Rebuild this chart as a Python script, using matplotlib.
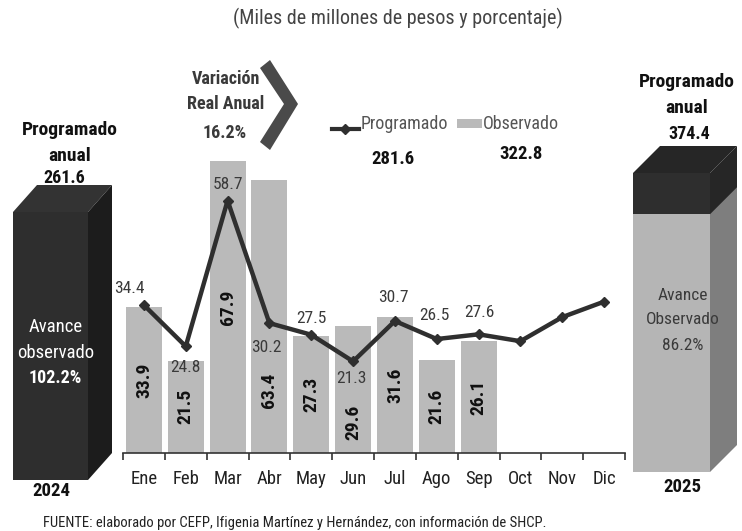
import matplotlib
matplotlib.use("Agg")
import matplotlib.pyplot as plt
from matplotlib.patches import Polygon, Rectangle
from matplotlib import font_manager

# ---------------- data ----------------
months = ["Ene", "Feb", "Mar", "Abr", "May", "Jun", "Jul", "Ago", "Sep", "Oct", "Nov", "Dic"]
observado = [33.9, 21.5, 67.9, 63.4, 27.3, 29.6, 31.6, 21.6, 26.1]
programado = [34.4, 24.8, 58.7, 30.2, 27.5, 21.3, 30.7, 26.5, 27.6, 26.0, 31.6, 35.2]
n_prog_labels = 9
total_prog_ytd = "281.6"
total_obs_ytd = "322.8"
prog_2024 = "261.6"
prog_2025 = "374.4"
avance_2024 = "102.2%"
avance_2025 = "86.2%"
avance_2025_frac = 0.862
var_real = "16.2%"

# ---------------- fonts ----------------
avail = {f.name for f in font_manager.fontManager.ttflist}
FAM = [f for f in ["Liberation Sans Narrow", "Roboto Condensed", "DejaVu Sans"] if f in avail] or ["DejaVu Sans"]
plt.rcParams["font.family"] = FAM

W, H = 742, 531
fig = plt.figure(figsize=(W / 100, H / 100), dpi=100)
fig.patch.set_facecolor("white")

# overlay axes in pixel coords
ov = fig.add_axes([0, 0, 1, 1], zorder=0)
ov.set_xlim(0, W)
ov.set_ylim(H, 0)
ov.axis("off")

# main chart axes (pixel layout)
x0, x1 = 123, 625
ytop, ybase = 150, 453
ax = fig.add_axes([x0 / W, (H - ybase) / H, (x1 - x0) / W, (ybase - ytop) / H], zorder=2)
ax.set_facecolor("none")
scale = 4.3
ax.set_ylim(0, (ybase - ytop) / scale)
ax.set_xlim(-0.5, len(months) - 0.5)

xs = list(range(len(months)))
bar_col = "#bababa"
ax.bar(xs[:len(observado)], observado, width=0.86, color=bar_col, edgecolor="none", zorder=1)
ax.plot(xs, programado, color="#2f2f2f", lw=3.2, marker="D", ms=5, mfc="#2f2f2f", mec="#2f2f2f", zorder=3)

for s in ["top", "right", "left"]:
    ax.spines[s].set_visible(False)
ax.spines["bottom"].set_color("#333333")
ax.spines["bottom"].set_linewidth(1.2)
ax.set_yticks([])
ax.set_xticks(xs)
ax.set_xticklabels(months, fontsize=13.5, color="#222222")
ax.tick_params(axis="x", which="major", length=0, pad=12)
ax.set_xticks([i - 0.5 for i in range(len(months) + 1)], minor=True)
ax.tick_params(axis="x", which="minor", length=5, width=1.2, color="#333333", direction="out")

# bar value labels (rotated)
label_frac = [0.5, 0.5, 0.5, 0.23, 0.5, 0.24, 0.5, 0.5, 0.5]
for i, v in enumerate(observado):
    ax.text(i, v * label_frac[i], f"{v:.1f}", rotation=90, ha="center", va="center",
            fontsize=14, fontweight="bold", color="#111111", zorder=4)

# line value labels
offs = [(-15, 17), (0, -21), (0, 16), (-3, -24), (0, 16), (-2, -17), (-2, 23), (-2, 24), (1, 22)]
for i in range(n_prog_labels):
    ax.annotate(f"{programado[i]:.1f}", (i, programado[i]), xytext=offs[i], textcoords="offset pixels",
                ha="center", va="center", fontsize=12.5, color="#3a3a3a", zorder=5)

# ---------------- 3D boxes ----------------
def box(x, y, w, h, dx, dy, front, top, side):
    ov.add_patch(Polygon([(x, y), (x + dx, y - dy), (x + w + dx, y - dy), (x + w, y)], closed=True,
                         facecolor=top, edgecolor="none"))
    ov.add_patch(Polygon([(x + w, y), (x + w + dx, y - dy), (x + w + dx, y + h - dy), (x + w, y + h)],
                         closed=True, facecolor=side, edgecolor="none"))
    ov.add_patch(Rectangle((x, y), w, h, facecolor=front, edgecolor="none"))

# left box (2024)
box(13, 212, 75, 268, 24, 27, "#2e2e2e", "#333333", "#1c1c1c")
# right box (2025): dark top part and observed light part
bx, by, bw, bh = 633, 173, 77, 299
light_h = bh * avance_2025_frac
dark_h = bh - light_h
box(bx, by, bw, bh, 27, 27, "#b5b5b5", "#262626", "#7e7e7e")
ov.add_patch(Rectangle((bx, by), bw, dark_h, facecolor="#2e2e2e", edgecolor="none"))
ov.add_patch(Polygon([(bx + bw, by), (bx + bw + 27, by - 27), (bx + bw + 27, by + dark_h - 27), (bx + bw, by + dark_h)],
                     closed=True, facecolor="#262626", edgecolor="none"))

# ---------------- texts ----------------
ov.text(398, 18, "(Miles de millones de pesos y porcentaje)", ha="center", va="center", fontsize=14.5, color="#444444")

ov.text(70, 130, "Programado", ha="center", va="center", fontsize=14, fontweight="bold", color="#111111")
ov.text(70, 156, "anual", ha="center", va="center", fontsize=14, fontweight="bold", color="#111111")
ov.text(64, 178, prog_2024, ha="center", va="center", fontsize=13, fontweight="bold", color="#111111")

ov.text(687, 82, "Programado", ha="center", va="center", fontsize=14, fontweight="bold", color="#111111")
ov.text(687, 108, "anual", ha="center", va="center", fontsize=14, fontweight="bold", color="#111111")
ov.text(689, 134, prog_2025, ha="center", va="center", fontsize=13, fontweight="bold", color="#111111")

ov.text(56, 327, "Avance", ha="center", va="center", fontsize=13.5, color="white")
ov.text(56, 353, "observado", ha="center", va="center", fontsize=13.5, color="white")
ov.text(55, 378, avance_2024, ha="center", va="center", fontsize=13, fontweight="bold", color="white")

ov.text(683, 295, "Avance", ha="center", va="center", fontsize=12.5, color="#3a3a3a")
ov.text(683, 320, "Observado", ha="center", va="center", fontsize=12.5, color="#3a3a3a")
ov.text(683, 345, avance_2025, ha="center", va="center", fontsize=12.5, color="#3a3a3a")

ov.text(51, 491, "2024", ha="center", va="center", fontsize=13.5, fontweight="bold", color="#111111")
ov.text(682, 487, "2025", ha="center", va="center", fontsize=13.5, fontweight="bold", color="#111111")

ov.text(43, 523, "FUENTE: elaborado por CEFP, Ifigenia Martínez y Hernández, con información de SHCP.",
        ha="left", va="center", fontsize=10.5, color="#222222")

# Variación real anual + chevron
ov.text(226, 79, "Variación", ha="center", va="center", fontsize=13, fontweight="bold", color="#3a3a3a")
ov.text(226, 104, "Real Anual", ha="center", va="center", fontsize=13, fontweight="bold", color="#3a3a3a")
ov.text(225, 133, var_real, ha="center", va="center", fontsize=13, fontweight="bold", color="#3a3a3a")
ov.add_patch(Polygon([(260, 68), (270, 60), (298, 104), (270, 150), (260, 142), (284, 104)], closed=True,
                     facecolor="#4a4a4a", edgecolor="none"))

# legend (manual)
ov.plot([332, 359], [129, 129], color="#2f2f2f", lw=3)
ov.plot([345], [129], marker="D", ms=5, color="#2f2f2f")
ov.text(361, 124, "Programado", ha="left", va="center", fontsize=13, color="#555555")
ov.add_patch(Rectangle((457, 119), 25, 9, facecolor=bar_col, edgecolor="none"))
ov.text(483, 124, "Observado", ha="left", va="center", fontsize=13, color="#555555")

ov.text(393, 159, total_prog_ytd, ha="center", va="center", fontsize=13.5, fontweight="bold", color="#111111")
ov.text(521, 154, total_obs_ytd, ha="center", va="center", fontsize=13.5, fontweight="bold", color="#111111")

fig.savefig("out.png", dpi=100)
